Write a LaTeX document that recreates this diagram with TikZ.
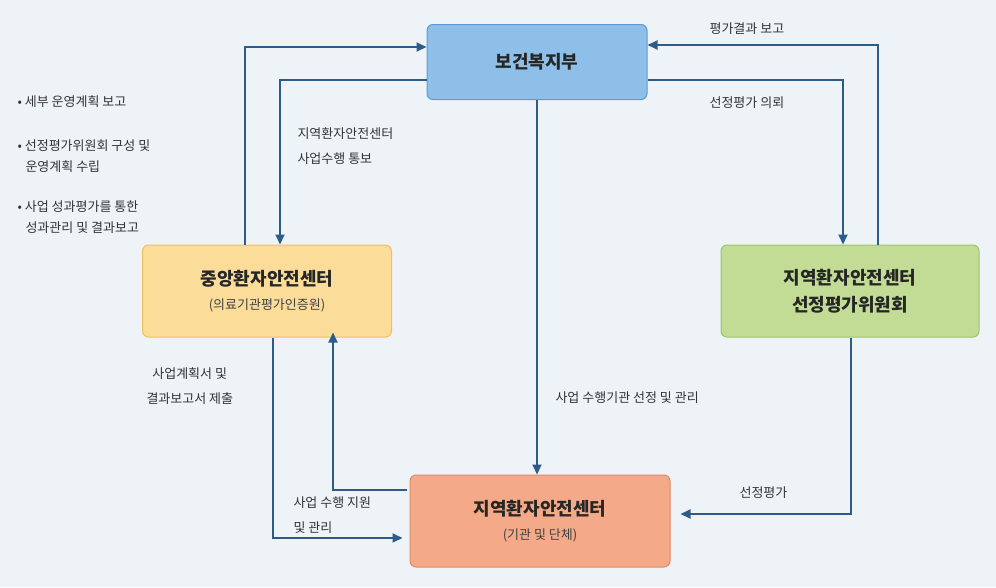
\documentclass[tikz,border=0pt]{standalone}
\usepackage{fontspec}
\setmainfont{Noto Sans CJK KR}
\usetikzlibrary{arrows.meta}
\begin{document}
\begin{tikzpicture}[x=1pt,y=-1pt,
 box/.style={draw,rounded corners=6pt,line width=1pt,inner sep=0pt},
 arr/.style={draw=ar,line width=1.8pt,-{Triangle[length=10pt,width=9pt]}},
 lab/.style={font=\fontsize{13}{25}\selectfont,text=black!80,align=left,anchor=west},
 ttl/.style={font=\fontsize{18}{27}\selectfont\bfseries,text=black!85,align=center},
 sub/.style={font=\fontsize{13}{16}\selectfont,text=black!75}]
\definecolor{ar}{HTML}{2E5C8A}
\definecolor{bg}{HTML}{EEF3F8}
\fill[bg] (0,0) rectangle (996,587);
\useasboundingbox (0,0) rectangle (996,587);
\node[box,draw={rgb,255:red,90;green,155;blue,213},fill={rgb,255:red,141;green,191;blue,232},minimum width=220pt,minimum height=75pt] (mw) at (537,62) {};
\node[ttl] at (mw) {보건복지부};
\node[box,draw={rgb,255:red,240;green,192;blue,96},fill={rgb,255:red,251;green,221;blue,153},minimum width=249pt,minimum height=92pt] (ct) at (267,291) {};
\node[ttl] at (267,279) {중앙환자안전센터};
\node[sub] at (267,305) {(의료기관평가인증원)};
\node[box,draw={rgb,255:red,156;green,196;blue,106},fill={rgb,255:red,194;green,220;blue,149},minimum width=258pt,minimum height=92pt] (cm) at (850,291) {};
\node[ttl] at (cm) {지역환자안전센터\\선정평가위원회};
\node[box,draw={rgb,255:red,224;green,138;blue,102},fill={rgb,255:red,244;green,170;blue,136},minimum width=260pt,minimum height=92pt] (lc) at (540,521) {};
\node[ttl] at (540,509) {지역환자안전센터};
\node[sub] at (540,535) {(기관 및 단체)};
\coordinate (a1) at (245,47); \coordinate (a2) at (280,80);
\coordinate (a3) at (843,80); \coordinate (a4) at (878,45);
\coordinate (a5) at (851,514); \coordinate (a6) at (333,490); \coordinate (a7) at (273,538);
\draw[arr] (ct.north -| a1) |- (mw.west |- a1);
\draw[arr] (mw.west |- a2) -| (ct.north -| a2);
\draw[arr] (mw.south -| 537,0) -- (lc.north -| 537,0);
\draw[arr] (mw.east |- a3) -| (cm.north -| a3);
\draw[arr] (cm.north -| a4) |- (mw.east |- a4);
\draw[arr] (cm.south -| a5) |- ([xshift=10pt]lc.east |- a5);
\draw[arr] ([xshift=-3pt]lc.west |- a6) -| ([yshift=5pt]ct.south -| a6);
\draw[arr] (ct.south -| a7) |- ([xshift=-7pt]lc.west |- a7);
\node[lab] at (14,102) {• 세부 운영계획 보고};
\node[lab,anchor=north west,font=\fontsize{13}{21}\selectfont] at (14,136) {• 선정평가위원회 구성 및\\\ \ \,운영계획 수립};
\node[lab,anchor=north west,font=\fontsize{13}{21}\selectfont] at (14,197) {• 사업 성과평가를 통한\\\ \ \,성과관리 및 결과보고};
\node[lab] at (294,146) {지역환자안전센터\\사업수행 통보};
\node[lab] at (706,29) {평가결과 보고};
\node[lab] at (706,103) {선정평가 의뢰};
\node[lab] at (552,398) {사업 수행기관 선정 및 관리};
\node[lab,align=left,anchor=west] at (143,386) {\ \ 사업계획서 및\\결과보고서 제출};
\node[lab] at (290,515) {사업 수행 지원\\및 관리};
\node[lab] at (736,493) {선정평가};
\end{tikzpicture}
\end{document}
